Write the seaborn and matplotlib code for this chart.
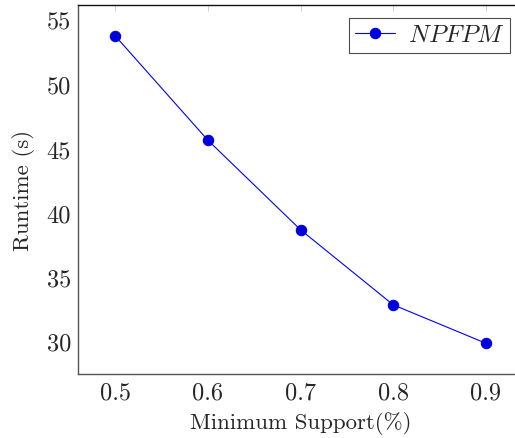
import matplotlib
matplotlib.use("Agg")
import matplotlib.pyplot as plt
import seaborn as sns
import pandas as pd

# Runtime versus minimum support threshold
min_support = [0.5, 0.6, 0.7, 0.8, 0.9]
runtime_s = [53.77, 45.65, 38.68, 32.84, 29.85]
series_name = r"$NPFPM$"
x_ticks = [0.5, 0.6, 0.7, 0.8, 0.9]
y_ticks = [30, 35, 40, 45, 50, 55]

sns.set_style("white")
plt.rcParams["font.family"] = "serif"
plt.rcParams["font.serif"] = ["cmr10"]
plt.rcParams["mathtext.fontset"] = "cm"
plt.rcParams["axes.formatter.use_mathtext"] = True
plt.rcParams["axes.unicode_minus"] = False

df = pd.DataFrame({"support": min_support, "runtime": runtime_s,
                   "method": [series_name] * len(min_support)})

fig = plt.figure(figsize=(5.15, 4.39), dpi=100)
ax = fig.add_axes([0.1515, 0.1458, 0.864, 0.8405])

sns.lineplot(data=df, x="support", y="runtime", hue="method",
             palette=["#0000ff"], marker="o", markersize=7.5,
             markerfacecolor="#0000dd", markeredgecolor="#0000dd",
             linewidth=0.8, ax=ax)

ax.set_xlim(0.46, 0.94)
ax.set_ylim(27.46, 56.16)
ax.set_xticks(x_ticks)
ax.set_yticks(y_ticks)
ax.set_xticklabels([f"{v:.1f}" for v in x_ticks])
ax.set_yticklabels([str(v) for v in y_ticks])
ax.tick_params(axis="both", which="both", direction="in", length=4,
               width=0.6, color="#c8c8c8", labelsize=17.5, pad=5,
               top=True, right=True)

for side in ["left", "bottom"]:
    ax.spines[side].set_color("#555555")
    ax.spines[side].set_linewidth(1.0)
ax.spines["top"].set_color("#111111")
ax.spines["top"].set_linewidth(1.0)
ax.spines["right"].set_visible(False)

ax.set_xlabel("Minimum Support(%)", fontsize=16.5, labelpad=6)
ax.set_ylabel("Runtime (s)", fontsize=16.5, labelpad=8)

leg = ax.legend(loc="upper right", fontsize=18, frameon=True, fancybox=False,
                edgecolor="#222222", handlelength=1.6, borderpad=0.25,
                handletextpad=0.5, borderaxespad=0.5,
                bbox_to_anchor=(1.0, 1.0))
leg.get_frame().set_linewidth(0.8)
for h in leg.get_lines():
    h.set_linewidth(0.8)

fig.savefig("out.png", dpi=100)
